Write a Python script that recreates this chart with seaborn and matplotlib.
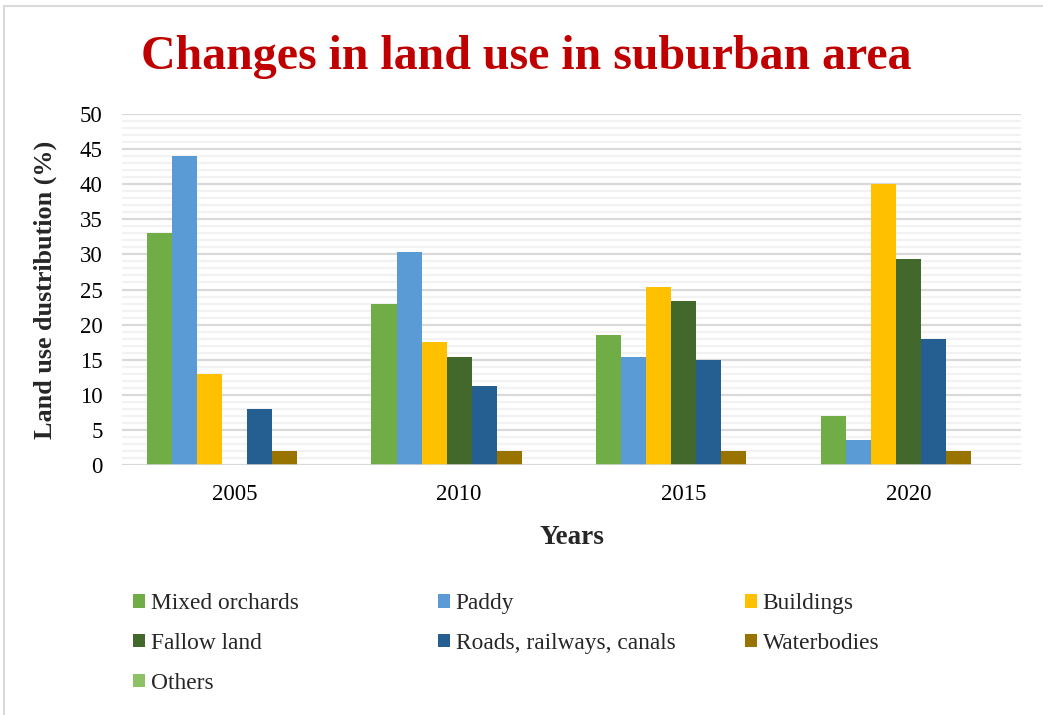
import matplotlib
matplotlib.use("Agg")
import matplotlib.pyplot as plt
from matplotlib.patches import Patch, Rectangle
from matplotlib.ticker import MultipleLocator
import seaborn as sns
import pandas as pd

# Land-use shares (%) by year
years = ["2005", "2010", "2015", "2020"]
mixed_orchards = [33, 23, 18.5, 7]
paddy = [44, 30.3, 15.4, 3.5]
buildings = [13, 17.5, 25.3, 40]
fallow_land = [0, 15.4, 23.3, 29.4]
roads_railways_canals = [8, 11.3, 15, 18]
waterbodies = [2, 2, 2, 2]
others = [0, 0, 0, 0]

series_names = ["Mixed orchards", "Paddy", "Buildings", "Fallow land",
                "Roads, railways, canals", "Waterbodies", "Others"]
series_values = [mixed_orchards, paddy, buildings, fallow_land,
                 roads_railways_canals, waterbodies, others]
colors = ["#70AD47", "#5B9BD5", "#FFC000", "#43682B", "#255E91", "#997300", "#8CC168"]

df = pd.DataFrame(
    [(y, name, v) for name, vals in zip(series_names, series_values)
     for y, v in zip(years, vals)],
    columns=["Year", "Land use", "Share"],
)

sns.set_theme(style="white")
plt.rcParams["font.family"] = ["Liberation Serif", "DejaVu Serif"]

fig = plt.figure(figsize=(10.43, 7.15), dpi=100)
ax = fig.add_axes([122 / 1043, 1 - 465 / 715, 899 / 1043, 351 / 715])

sns.barplot(data=df, x="Year", y="Share", hue="Land use", order=years,
            hue_order=series_names, palette=colors, width=0.78,
            linewidth=0, saturation=1, legend=False, ax=ax)

ax.set_ylim(0, 50)
ax.yaxis.set_major_locator(MultipleLocator(5))
ax.yaxis.set_minor_locator(MultipleLocator(1))
ax.grid(which="major", axis="y", color="#D9D9D9", linewidth=1.6, zorder=0)
ax.grid(which="minor", axis="y", color="#F2F2F2", linewidth=1.6, zorder=0)
ax.set_axisbelow(True)
for s in ax.spines.values():
    s.set_visible(False)
ax.axhline(0, color="#D9D9D9", linewidth=1.8, zorder=1)

ax.tick_params(axis="both", which="both", length=0, labelsize=16.5, colors="black")
ax.tick_params(axis="x", pad=14)
ax.tick_params(axis="y", pad=14)

ax.set_xlabel("Years", fontsize=19.5, fontweight="bold")
ax.set_ylabel("Land use dustribution (%)", fontsize=18.8, fontweight="bold")
ax.xaxis.set_label_coords(0.5, -0.172)
ax.yaxis.set_label_coords(-0.072, 0.5)

fig.text(0.505, 1 - 57 / 715, "Changes in land use in suburban area",
         ha="center", va="center", fontsize=34.5, fontweight="bold", color="#C00000")

# Legend laid out as three columns, row-major order
handles = [Patch(facecolor=c, edgecolor="none") for c in colors]
columns = [[0, 3, 6], [1, 4], [2, 5]]
col_x = [124, 429, 736]
for idxs, x in zip(columns, col_x):
    fig.legend([handles[i] for i in idxs], [series_names[i] for i in idxs],
               loc="upper left", bbox_to_anchor=(x / 1043, 1 - 584 / 715),
               frameon=False, fontsize=16.8, handlelength=0.5, handleheight=0.5,
               handletextpad=0.25, labelspacing=0.8, borderaxespad=0)

# Outer chart border
fig.add_artist(Rectangle((4 / 1043, -0.02), 1.05, 1 - 6 / 715 + 0.02,
                         transform=fig.transFigure, fill=False,
                         edgecolor="#D9D9D9", linewidth=1.5))

fig.savefig("out.png", dpi=100, facecolor="white")
